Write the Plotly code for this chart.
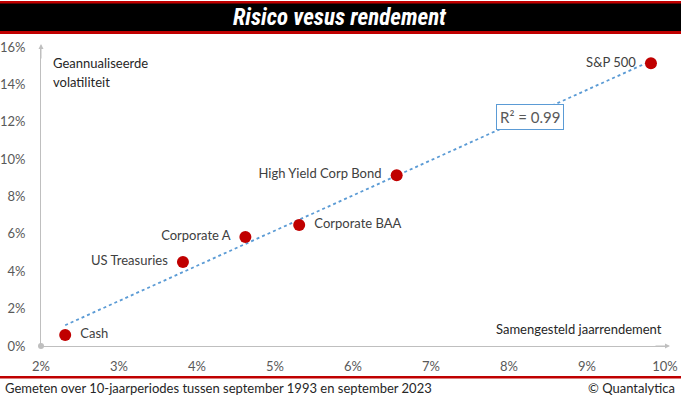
import numpy as np
import plotly.graph_objects as go

names = ["Cash", "US Treasuries", "Corporate A", "Corporate BAA", "High Yield Corp Bond", "S&P 500"]
rendement = [2.31, 3.82, 4.62, 5.31, 6.56, 9.82]      # x, %
volatiliteit = [0.59, 4.49, 5.83, 6.47, 9.14, 15.13]  # y, %
label_pos = ["middle right", "middle left", "middle left", "middle right", "middle left", "middle left"]
x_ticks = [2, 3, 4, 5, 6, 7, 8, 9, 10]
y_ticks = [0, 2, 4, 6, 8, 10, 12, 14, 16]
x_tick_text = [f"{v}%" for v in x_ticks]
y_tick_text = [f"{v}%" for v in y_ticks]
r2_text = "R² = 0.99"

W, H = 681, 399
L, R, T, B = 41, 16, 47, 53
pw, ph = W - L - R, H - T - B

def px(x):
    return (x - L) / pw

def py(y):
    return (H - B - y) / ph

slope, intercept = np.polyfit(rendement, volatiliteit, 1)
tx = [min(rendement), max(rendement)]
ty = [slope * v + intercept for v in tx]

FONT = "Lato, Noto Sans, sans-serif"

fig = go.Figure()
fig.add_trace(go.Scatter(x=tx, y=ty, mode="lines",
                         line=dict(color="#5b9bd5", width=1.8, dash="dot"),
                         hoverinfo="skip", showlegend=False))
fig.add_trace(go.Scatter(x=rendement, y=volatiliteit, mode="markers+text",
                         text=[n + "  " if p.endswith("left") else "  " + n for n, p in zip(names, label_pos)],
                         textposition=label_pos,
                         textfont=dict(family=FONT, size=13, color="#404040"),
                         marker=dict(color="#c00000", size=12),
                         showlegend=False))

shapes = [
    dict(type="rect", xref="paper", yref="paper", x0=px(0), x1=px(W), y0=py(1), y1=py(34),
         fillcolor="#c00000", line=dict(width=0), layer="below"),
    dict(type="rect", xref="paper", yref="paper", x0=px(0), x1=px(W), y0=py(3.5), y1=py(31),
         fillcolor="#000000", line=dict(width=0), layer="below"),
    dict(type="rect", xref="paper", yref="paper", x0=px(0), x1=px(W), y0=py(376), y1=py(378.5),
         fillcolor="#c00000", line=dict(width=0), layer="below"),
    dict(type="circle", xref="paper", yref="paper", x0=px(38), x1=px(44), y0=py(343), y1=py(349),
         fillcolor="#bfbfbf", line=dict(width=0)),
]

annotations = [
    dict(text="<b><i>Risico vesus rendement</i></b>", xref="paper", yref="paper",
         x=px(340), y=py(17), showarrow=False, xanchor="center", yanchor="middle",
         font=dict(family="Liberation Sans Narrow, Roboto Condensed, Roboto, sans-serif", size=23, color="white")),
    dict(text="Geannualiseerde", xref="paper", yref="paper",
         x=px(51), y=py(63), showarrow=False, xanchor="left", yanchor="middle",
         font=dict(family=FONT, size=13, color="#262626")),
    dict(text="volatiliteit", xref="paper", yref="paper",
         x=px(51), y=py(82), showarrow=False, xanchor="left", yanchor="middle",
         font=dict(family=FONT, size=13, color="#262626")),
    dict(text="Samengesteld jaarrendement", xref="paper", yref="paper",
         x=px(664), y=py(329), showarrow=False, xanchor="right", yanchor="middle",
         font=dict(family=FONT, size=13, color="#262626")),
    dict(text=r2_text, xref="paper", yref="paper",
         x=px(529.5), y=py(117.5), showarrow=False, xanchor="center", yanchor="middle",
         bordercolor="#5b9bd5", borderwidth=1, borderpad=3, bgcolor="white",
         font=dict(family=FONT, size=15, color="#595959")),
    dict(text="Gemeten over 10-jaarperiodes tussen september 1993 en september 2023", xref="paper", yref="paper",
         x=px(3), y=py(388), showarrow=False, xanchor="left", yanchor="middle",
         font=dict(family=FONT, size=13, color="#262626")),
    dict(text="© Quantalytica", xref="paper", yref="paper",
         x=px(677), y=py(388), showarrow=False, xanchor="right", yanchor="middle",
         font=dict(family=FONT, size=13, color="#262626")),
    # axis arrows
    dict(x=px(670), y=py(346), ax=-16, ay=0, xref="paper", yref="paper",
         text="", showarrow=True, arrowhead=2, arrowsize=1,
         arrowwidth=1, arrowcolor="#bfbfbf"),
    dict(x=px(41), y=py(44), ax=0, ay=16, xref="paper", yref="paper",
         text="", showarrow=True, arrowhead=2, arrowsize=1,
         arrowwidth=1, arrowcolor="#bfbfbf"),
]

fig.update_layout(
    width=W, height=H,
    margin=dict(l=L, r=R, t=T, b=B, autoexpand=False),
    plot_bgcolor="white", paper_bgcolor="white",
    shapes=shapes, annotations=annotations,
    xaxis=dict(range=[2, 10], tickvals=x_ticks, ticktext=x_tick_text, showgrid=False, zeroline=False,
               showline=True, linecolor="#bfbfbf", linewidth=1, ticks="", automargin=False,
               tickfont=dict(family=FONT, size=13, color="#595959"), ticklabelstandoff=8),
    yaxis=dict(range=[0, 16], tickvals=y_ticks, ticktext=y_tick_text, showgrid=False, zeroline=False,
               showline=True, linecolor="#bfbfbf", linewidth=1, ticks="", automargin=False,
               tickfont=dict(family=FONT, size=13, color="#595959"), ticklabelstandoff=12),
)

fig.write_html("out.html", config={"displayModeBar": False},
               post_script="document.body.style.margin='0';")
